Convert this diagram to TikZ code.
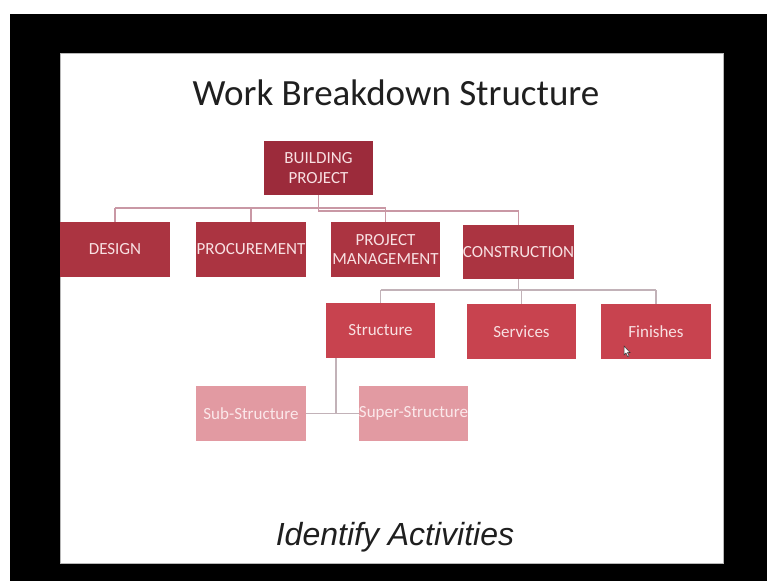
\documentclass[tikz,border=0pt]{standalone}
\usepackage{fontspec}
\setmainfont{Carlito}
\newfontfamily\arialfont{Liberation Sans}
\definecolor{rootcol}{HTML}{9C2B3B}
\definecolor{lvlonecol}{HTML}{AB3441}
\definecolor{lvltwocol}{HTML}{C8434F}
\definecolor{lvlthreecol}{HTML}{E29AA2}
\definecolor{boxtext}{HTML}{F8E0E2}
\definecolor{palatext}{HTML}{FBE8EA}
\definecolor{busupper}{HTML}{C998A5}
\definecolor{buslower}{HTML}{C2B2B8}
\definecolor{slideedge}{HTML}{B8B8B8}
\begin{document}
\begin{tikzpicture}[x=1pt,y=-1pt,
  wbsbox/.style={rectangle, inner sep=0pt, outer sep=0pt,
    minimum width=110pt, minimum height=55pt, align=center,
    font=\fontsize{17}{19.5}\selectfont, text=boxtext},
  rootbox/.style={wbsbox, fill=rootcol, minimum width=109pt, minimum height=54pt},
  lvlone/.style={wbsbox, fill=lvlonecol},
  lvltwo/.style={wbsbox, fill=lvltwocol},
  lvlthree/.style={wbsbox, fill=lvlthreecol, text=palatext},
  upperline/.style={draw=busupper, line width=1.5pt},
  lowerline/.style={draw=buslower, line width=1.5pt}]
\useasboundingbox (0,0) rectangle (767,581);
% surroundings and slide
\fill[white] (0,0) rectangle (767,581);
\fill[black] (10,14) rectangle (767,581);
\fill[white] (60,53) rectangle (723,563);
\draw[slideedge, line width=0.8pt] (60,53) rectangle (723,563);

% title and caption
\node[anchor=base, font=\fontsize{37}{40}\selectfont, text=black!88] (title) at (396,105) {Work Breakdown Structure};
\node[anchor=base, font=\arialfont\itshape\fontsize{32}{35}\selectfont, text=black!88] (caption) at (395,545) {Identify Activities};

% bus junctions
\coordinate (ja) at (318.5,211);
\coordinate (jb) at (518.5,211);
\coordinate (jc) at (115,208);
\coordinate (jd) at (385.5,208);
\coordinate (je) at (251,208);
\coordinate (jf) at (518.5,290);
\coordinate (jg) at (380.5,290);
\coordinate (jh) at (656,290);
\coordinate (ji) at (521.5,290);
\coordinate (jk) at (336,358);
\coordinate (jl) at (336,413.5);

% connectors (under the boxes)
\draw[upperline] (jc) -- (jd);
\draw[upperline] (318.5,195) -- (ja) -- (jb) -- (518.5,225);
\draw[upperline] (jc) -- (115,222);
\draw[upperline] (je) -- (251,222);
\draw[upperline] (jd) -- (385.5,222);
\draw[lowerline] (518.5,279) -- (jf);
\draw[lowerline] (jg) -- (jh);
\draw[lowerline] (jg) -- (380.5,303);
\draw[lowerline] (ji) -- (521.5,304);
\draw[lowerline] (jh) -- (656,304);
\draw[lowerline] (jk) -- (jl);
\draw[lowerline] (306,413.5) -- (359,413.5);

% boxes
\node[rootbox] (bp) at (318.5,168) {BUILDING\\PROJECT};
\node[lvlone] (design) at (115,249.5) {DESIGN};
\node[lvlone] (proc) at (251,249.5) {PROCUREMENT};
\node[lvlone, minimum width=109pt] (pm) at (385.5,249.5) {PROJECT\\MANAGEMENT};
\node[lvlone, minimum width=109pt, minimum height=54pt] (cons) at (518.5,252) {CONSTRUCTION};
\node[lvltwo, minimum width=109pt] (struct) at (380.5,330.5) {Structure};
\node[lvltwo, minimum width=109pt] (serv) at (521.5,331.5) {Services};
\node[lvltwo] (fin) at (656,331.5) {Finishes};
\node[lvlthree] (sub) at (251,413.5) {Sub-Structure};
\node[lvlthree, minimum width=109pt] (super) at (413.5,413.5) {Super-Structure};

% mouse pointer
\filldraw[fill=white, draw=black!80, line width=0.5pt]
  (624,346) -- (624,355) -- (626,353) -- (627.6,356.5) -- (629,356) -- (627.4,352.5) -- (630,352.5) -- cycle;
\end{tikzpicture}
\end{document}
